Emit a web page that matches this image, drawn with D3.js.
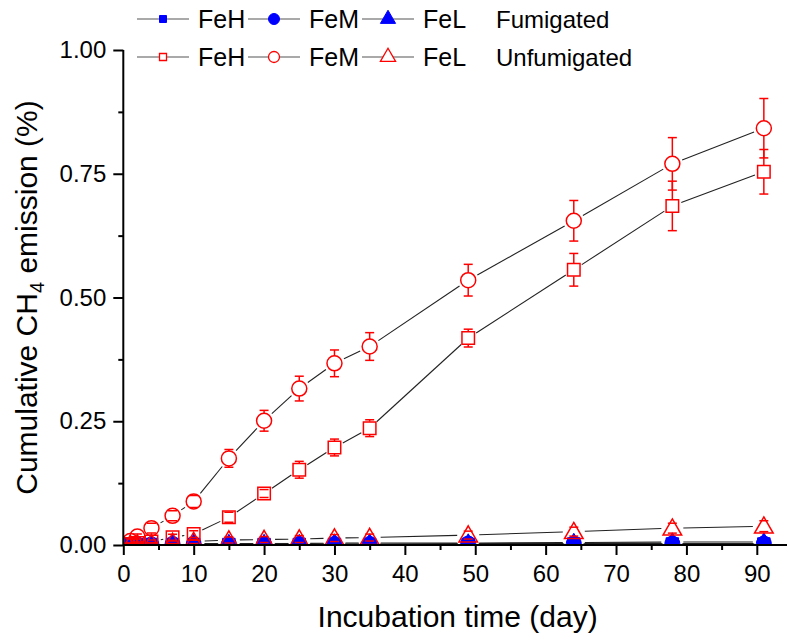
<!doctype html>
<html lang=en>

<head>
  <meta charset=utf-8>
  <title>Cumulative CH4 emission</title>
  <style>
    body { margin: 0; background: #fff; }
    text { font-family: Arial, "Liberation Sans", sans-serif; fill: #000; }
  </style>
</head>

<body>
  <svg></svg>
  <script src="https://d3js.org/d3.v7.min.js"></script>
  <script>
    var width = 787;
    var height = 637;

    // incubation days
    var days = [1, 2, 4, 7, 10, 15, 20, 25, 30, 35, 49, 64, 78, 91];

    // fumigated (blue, filled)
    var fehFum = [0.001, 0.001, 0.001, 0.001, 0.001, 0.001, 0.001, 0.001, 0.001, 0.001, 0.001, 0.002, 0.002, 0.002];
    var femFum = [0.001, 0.001, 0.001, 0.002, 0.002, 0.002, 0.002, 0.002, 0.002, 0.002, 0.003, 0.003, 0.003, 0.003];
    var felFum = [0.001, 0.001, 0.002, 0.002, 0.003, 0.003, 0.003, 0.003, 0.004, 0.004, 0.004, 0.005, 0.006, 0.006];

    // unfumigated (red, open) with error bars
    var fehUnf = [0.002, 0.004, 0.007, 0.0155, 0.022, 0.056, 0.104, 0.152, 0.197, 0.236, 0.418, 0.556, 0.685, 0.754];
    var fehUnfErr = [0.002, 0.002, 0.003, 0.006, 0.007, 0.01, 0.008, 0.017, 0.017, 0.017, 0.018, 0.033, 0.05, 0.045];
    var femUnf = [0.008, 0.017, 0.034, 0.059, 0.088, 0.175, 0.251, 0.316, 0.367, 0.401, 0.535, 0.655, 0.770, 0.842];
    var femUnfErr = [0.004, 0.005, 0.01, 0.01, 0.012, 0.018, 0.021, 0.025, 0.027, 0.028, 0.032, 0.041, 0.053, 0.06];
    var felUnf = [0.001, 0.002, 0.003, 0.005, 0.007, 0.010, 0.011, 0.012, 0.014, 0.015, 0.020, 0.027, 0.034, 0.038];
    var felUnfErr = [0.001, 0.001, 0.002, 0.003, 0.004, 0.006, 0.006, 0.007, 0.007, 0.007, 0.008, 0.009, 0.01, 0.011];

    var yTicks = [0, 0.25, 0.5, 0.75, 1.0];
    var xTicks = [0, 10, 20, 30, 40, 50, 60, 70, 80, 90];
    var legendNames = ["FeH", "FeM", "FeL"];

    var pLeft = 123.3, pRight = 792, pTop = 50, pBottom = 545;

    var svg = d3.select("svg")
      .attr("width", width)
      .attr("height", height);

    var x = d3.scaleLinear().domain([0, 95]).range([pLeft, pRight]);
    var y = d3.scaleLinear().domain([0, 1]).range([pBottom, pTop]);

    svg.append("clipPath").attr("id", "plot")
      .append("rect")
      .attr("x", pLeft).attr("y", 0)
      .attr("width", pRight - pLeft).attr("height", pBottom);

    // marker shapes
    var shapes = {
      square: { sym: d3.symbolSquare, size: 12.5 * 12.5, r: 6.5 },
      circle: { sym: d3.symbolCircle, size: Math.PI * 7.5 * 7.5, r: 7.5 },
      triangle: { sym: d3.symbolTriangle, size: 150, r: 8 }
    };

    var series = [
      { vals: fehFum, shape: "square", color: "#0000ff", filled: true },
      { vals: femFum, shape: "circle", color: "#0000ff", filled: true },
      { vals: felFum, shape: "triangle", color: "#0000ff", filled: true },
      { vals: fehUnf, err: fehUnfErr, shape: "square", color: "#ff0000", filled: false },
      { vals: femUnf, err: femUnfErr, shape: "circle", color: "#ff0000", filled: false },
      { vals: felUnf, err: felUnfErr, shape: "triangle", color: "#ff0000", filled: false }
    ];

    var plot = svg.append("g").attr("clip-path", "url(#plot)");

    // connecting lines with gaps around the markers
    series.forEach(function (s) {
      var gap = shapes[s.shape].r + 3;
      var segs = [];
      for (var i = 1; i < days.length; i++) {
        var x0 = x(days[i - 1]), y0 = y(s.vals[i - 1]);
        var x1 = x(days[i]), y1 = y(s.vals[i]);
        var d = Math.hypot(x1 - x0, y1 - y0);
        if (d <= 2 * gap) continue;
        var ux = (x1 - x0) / d, uy = (y1 - y0) / d;
        segs.push([[x0 + ux * gap, y0 + uy * gap], [x1 - ux * gap, y1 - uy * gap]]);
      }
      plot.selectAll(null).data(segs).enter().append("path")
        .attr("d", d3.line())
        .attr("stroke", "#222")
        .attr("stroke-width", 1.1)
        .attr("fill", "none");
    });

    function symbolPath(shape) {
      return d3.symbol().type(shapes[shape].sym).size(shapes[shape].size)();
    }

    series.forEach(function (s) {
      var g = plot.append("g");
      g.selectAll("path").data(s.vals).enter().append("path")
        .attr("d", symbolPath(s.shape))
        .attr("transform", function (d, i) {
          var dy = s.shape === "triangle" ? 1.5 : 0;
          return "translate(" + x(days[i]) + "," + (y(d) + dy) + ")";
        })
        .attr("fill", s.filled ? s.color : "none")
        .attr("stroke", s.color)
        .attr("stroke-width", s.filled ? 1 : 1.5);

      if (!s.err) return;
      var r = shapes[s.shape].r;
      s.vals.forEach(function (v, i) {
        var cx = x(days[i]), cy = y(v);
        [1, -1].forEach(function (dir) {
          var end = y(v + dir * s.err[i]);
          var edge = cy - dir * r;
          if (Math.abs(end - cy) > r) {
            g.append("line")
              .attr("x1", cx).attr("x2", cx)
              .attr("y1", edge).attr("y2", end)
              .attr("stroke", s.color).attr("stroke-width", 1.5);
          }
          g.append("line")
            .attr("x1", cx - 4.5).attr("x2", cx + 4.5)
            .attr("y1", end).attr("y2", end)
            .attr("stroke", s.color).attr("stroke-width", 1.5);
        });
      });
    });

    // axes
    var xAxis = svg.append("g")
      .attr("transform", "translate(0," + pBottom + ")")
      .call(d3.axisBottom(x).tickValues(xTicks).tickSize(10).tickPadding(10).tickFormat(d3.format("d")));
    svg.append("g")
      .attr("transform", "translate(0," + pBottom + ")")
      .call(d3.axisBottom(x).tickValues(d3.range(5, 95, 10)).tickSize(5).tickFormat(""))
      .call(function (g) { g.select(".domain").remove(); });
    var yAxis = svg.append("g")
      .attr("transform", "translate(" + pLeft + ",0)")
      .call(d3.axisLeft(y).tickValues(yTicks).tickSize(10).tickPadding(7).tickFormat(d3.format(".2f")));
    svg.append("g")
      .attr("transform", "translate(" + pLeft + ",0)")
      .call(d3.axisLeft(y).tickValues([0.125, 0.375, 0.625, 0.875]).tickSize(5).tickFormat(""))
      .call(function (g) { g.select(".domain").remove(); });

    svg.selectAll(".domain").attr("stroke-width", 2);
    xAxis.select(".domain").attr("d", "M" + pLeft + ",0H" + pRight);
    yAxis.select(".domain").attr("d", "M0," + pBottom + "V" + pTop);
    svg.selectAll(".tick line").attr("stroke-width", 2);
    svg.selectAll(".tick text")
      .style("font-family", "Arial, 'Liberation Sans', sans-serif")
      .style("font-size", "24px");

    // axis titles
    svg.append("text")
      .attr("x", (pLeft + pRight) / 2).attr("y", 627)
      .attr("text-anchor", "middle")
      .style("font-size", "30px")
      .text("Incubation time (day)");

    var yt = svg.append("text")
      .attr("transform", "translate(37," + ((pTop + pBottom) / 2) + ") rotate(-90)")
      .attr("text-anchor", "middle")
      .style("font-size", "30px");
    yt.append("tspan").text("Cumulative CH");
    yt.append("tspan").attr("dy", 7).style("font-size", "20px").text("4");
    yt.append("tspan").attr("dy", -7).text(" emission (%)");

    // legend
    var legendX = [163, 274, 388];
    var rows = [
      { y: 19, color: "#0000ff", filled: true, label: "Fumigated" },
      { y: 57, color: "#ff0000", filled: false, label: "Unfumigated" }
    ];
    var legendShapes = ["square", "circle", "triangle"];
    var legendSize = { square: 49, circle: 95, triangle: 100 };

    rows.forEach(function (row) {
      legendNames.forEach(function (name, k) {
        var cx = legendX[k];
        svg.append("line")
          .attr("x1", cx - 26).attr("x2", cx + 26)
          .attr("y1", row.y).attr("y2", row.y)
          .attr("stroke", "#555").attr("stroke-width", 1.2);
        svg.append("path")
          .attr("d", d3.symbol().type(shapes[legendShapes[k]].sym).size(legendSize[legendShapes[k]])())
          .attr("transform", "translate(" + cx + "," + row.y + ")")
          .attr("fill", row.filled ? row.color : "#fff")
          .attr("stroke", row.color)
          .attr("stroke-width", row.filled ? 1 : 1.3);
        svg.append("text")
          .attr("x", cx + 35).attr("y", row.y + 9)
          .style("font-size", "25px")
          .text(name);
      });
      svg.append("text")
        .attr("x", 496).attr("y", row.y + 9)
        .style("font-size", "24px")
        .text(row.label);
    });
  </script>
</body>

</html>
